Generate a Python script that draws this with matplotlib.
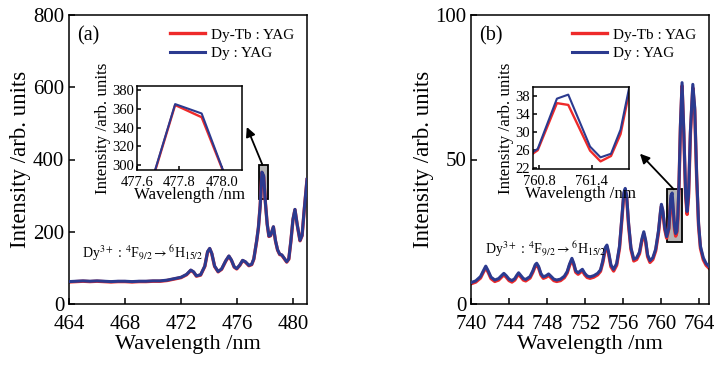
import matplotlib
matplotlib.use("Agg")
import matplotlib.pyplot as plt
from matplotlib.patches import Rectangle

plt.rcParams['font.family'] = ['Liberation Serif', 'DejaVu Serif']
plt.rcParams['mathtext.fontset'] = 'stix'

# ---------------- data panel (a) ----------------
wl_a = [464.0, 464.5, 465.0, 465.5, 466.0, 466.5, 467.0, 467.5, 468.0, 468.5, 469.0, 469.5,
        470.0, 470.5, 471.0, 471.5, 472.0, 472.4, 472.7, 472.9, 473.1, 473.4, 473.7, 473.9,
        474.05, 474.2, 474.4, 474.65, 474.9, 475.2, 475.42, 475.6, 475.8, 475.98, 476.2, 476.4,
        476.6, 476.85, 477.05, 477.2, 477.405, 477.53, 477.655, 477.78, 477.905, 478.03, 478.155,
        478.28, 478.4, 478.6, 478.75, 478.9, 479.05, 479.2, 479.35, 479.55, 479.7, 479.85, 480.0,
        480.14, 480.3, 480.5, 480.65, 480.8, 481.0]
dy_a = [62, 63, 64, 63, 64, 63, 62, 63, 63, 62, 63, 63,
        64, 64, 66, 70, 74, 82, 94, 89, 78, 81, 105, 145,
        154, 140, 105, 90, 97, 120, 133, 122, 103, 98, 108, 121,
        117, 107, 110, 125, 175, 212, 272, 365, 355, 280, 222,
        188, 190, 214, 175, 150, 138, 136, 128, 117, 125, 175, 235,
        262, 220, 176, 190, 260, 345]
dytb_a = [61, 62, 63, 62, 63, 62, 61, 62, 62, 61, 62, 62,
          63, 63, 65, 69, 73, 81, 93, 88, 77, 80, 104, 144,
          153, 139, 104, 89, 96, 119, 132, 121, 102, 97, 107, 120,
          116, 106, 109, 124, 174, 211, 271, 364, 351, 280, 221,
          187, 189, 213, 174, 149, 137, 135, 127, 116, 124, 174, 234,
          261, 219, 175, 189, 259, 344]

# ---------------- data panel (b) ----------------
wl_b = [740.0, 740.5, 741.0, 741.3, 741.55, 741.8, 742.1, 742.5, 742.9, 743.2, 743.45, 743.7,
        744.0, 744.3, 744.6, 744.8, 745.0, 745.25, 745.5, 745.75, 746.2, 746.5, 746.75, 746.9,
        747.1, 747.35, 747.6, 747.9, 748.15, 748.4, 748.7, 749.0, 749.4, 749.8, 750.1, 750.35,
        750.6, 750.8, 751.0, 751.25, 751.5, 751.7, 751.95, 752.2, 752.5, 752.9, 753.3, 753.6,
        753.85, 754.1, 754.28, 754.45, 754.7, 754.98, 755.3, 755.6, 755.85, 756.05, 756.2, 756.35,
        756.55, 756.8, 757.1, 757.4, 757.7, 757.95, 758.15, 758.35, 758.55, 758.8, 759.1, 759.4,
        759.7, 759.9, 760.0, 760.15, 760.35, 760.55, 760.78, 761.0, 761.13, 761.38, 761.5,
        761.62, 761.73, 761.85, 762.0, 762.17, 762.35, 762.55, 762.7, 762.85, 763.05, 763.3,
        763.5, 763.7, 763.9, 764.1, 764.4, 764.7, 765.0]
dy_b = [7.4, 8.0, 9.5, 11.5, 13.1, 11.5, 9.3, 8.3, 8.8, 9.8, 10.6, 9.8,
        8.6, 8.1, 8.8, 9.9, 10.8, 9.8, 8.8, 8.5, 9.5, 11.5, 13.6, 14.1,
        13.0, 10.5, 9.4, 9.8, 10.4, 9.6, 8.6, 8.3, 8.6, 9.6, 11.2, 13.8,
        15.8, 14.0, 11.5, 10.8, 11.5, 12.0, 10.6, 9.7, 9.4, 9.8, 10.6, 11.8,
        15.0, 19.5, 20.4, 18.0, 13.5, 12.0, 14.0, 20.0, 30.0, 38.5, 40.0, 37.5,
        28.0, 19.5, 15.5, 16.0, 18.0, 22.5, 25.0, 22.0, 17.0, 15.0, 16.0, 19.0,
        25.5, 32.0, 34.5, 32.5, 26.5, 23.3, 26.3, 37.5, 38.4, 26.8, 24.4,
        25.2, 30.6, 42.0, 62.0, 76.6, 60.0, 38.0, 32.0, 38.0, 60.0, 76.0,
        68.0, 45.0, 28.0, 20.0, 16.0, 14.0, 13.0]
dytb_b = [7.0, 7.6, 9.0, 11.0, 12.6, 11.0, 8.8, 7.8, 8.3, 9.3, 10.1, 9.3,
          8.1, 7.6, 8.3, 9.4, 10.3, 9.3, 8.3, 8.0, 9.0, 11.0, 13.1, 13.6,
          12.5, 10.0, 8.9, 9.3, 9.9, 9.1, 8.1, 7.8, 8.1, 9.1, 10.7, 13.3,
          15.3, 13.5, 11.0, 10.3, 11.0, 11.5, 10.1, 9.2, 8.9, 9.3, 10.1, 11.3,
          14.4, 18.9, 19.8, 17.4, 12.9, 11.4, 13.4, 19.3, 29.3, 37.8, 39.3, 36.8,
          27.3, 18.9, 14.9, 15.4, 17.4, 21.8, 24.3, 21.3, 16.4, 14.4, 15.4, 18.4,
          24.8, 31.3, 33.8, 31.8, 25.8, 22.8, 26.0, 36.5, 36.1, 25.9, 23.5,
          24.7, 29.6, 41.0, 61.0, 75.5, 59.0, 37.0, 31.0, 37.0, 59.0, 74.8,
          67.0, 44.0, 27.2, 19.3, 15.3, 13.4, 12.4]

legend_labels = ['Dy-Tb : YAG', 'Dy : YAG']
xticks_a = [464, 468, 472, 476, 480]
yticks_a = [0, 200, 400, 600, 800]
xticks_b = [740, 744, 748, 752, 756, 760, 764]
yticks_b = [0, 50, 100]
inset_xticks_a = [477.6, 477.8, 478.0]
inset_yticks_a = [300, 320, 340, 360, 380]
inset_xticks_b = [760.8, 761.4]
inset_yticks_b = [22, 26, 30, 34, 38]

RED = '#ee2a2a'
BLUE = '#2b3a8f'
W, H = 715, 368

fig = plt.figure(figsize=(W / 100, H / 100), dpi=100)


def frac(l, t, r, b):
    return [l / W, 1 - b / H, (r - l) / W, (b - t) / H]


def style(ax, fs, lw=1.1, tl=4):
    ax.tick_params(direction='in', length=tl, width=lw, labelsize=fs,
                   top=False, right=False)
    for s in ax.spines.values():
        s.set_linewidth(lw)


def panel(rect, wl, dytb, dy, xlim, ylim, xt, yt, tag, ann_xy, box, arrow,
          inrect, ixlim, iylim, ixt, iyt, ixfmt):
    ax = fig.add_axes(frac(*rect))
    ax.add_patch(Rectangle((box[0], box[2]), box[1] - box[0], box[3] - box[2],
                           facecolor='#b4b4b4', edgecolor='black', lw=1.3, zorder=1))
    ax.plot(wl, dytb, color=RED, lw=2.4, label=legend_labels[0], zorder=2)
    ax.plot(wl, dy, color=BLUE, lw=2.2, label=legend_labels[1], zorder=3)
    ax.set_xlim(*xlim)
    ax.set_ylim(*ylim)
    ax.set_xticks(xt)
    ax.set_yticks(yt)
    style(ax, 15)
    ax.tick_params(axis='x', pad=8)
    ax.set_xlabel('Wavelength /nm', fontsize=16, labelpad=1)
    ax.set_ylabel('Intensity /arb. units', fontsize=16.5, labelpad=1)
    ax.text(0.035, 0.96, tag, transform=ax.transAxes, fontsize=14.5, va='top', ha='left')
    ax.legend(loc='upper right', bbox_to_anchor=(1.0, 1.0), frameon=False, fontsize=11,
              handlelength=2.3, handletextpad=0.4, labelspacing=0.3, borderaxespad=0.45)
    ax.text(ann_xy[0], ann_xy[1],
            r'Dy$^{3+}$ : $^{4}$F$_{9/2}$$\rightarrow$$^{6}$H$_{15/2}$',
            fontsize=10, ha='left', va='baseline')
    ax.annotate('', xy=arrow[0], xytext=arrow[1],
                arrowprops=dict(arrowstyle='-|>', color='black', lw=1.3,
                                mutation_scale=14, shrinkA=0, shrinkB=0), zorder=5)
    ins = fig.add_axes(frac(*inrect))
    ins.plot(wl, dytb, color=RED, lw=1.7)
    ins.plot(wl, dy, color=BLUE, lw=1.5)
    ins.set_xlim(*ixlim)
    ins.set_ylim(*iylim)
    ins.set_xticks(ixt)
    ins.set_xticklabels([ixfmt.format(v) for v in ixt])
    ins.set_yticks(iyt)
    style(ins, 10.5, lw=1.1, tl=3)
    ins.tick_params(axis='y', pad=2)
    ins.tick_params(axis='x', pad=4)
    ins.set_xlabel('Wavelength /nm', fontsize=12.2, labelpad=-1)
    ins.set_ylabel('Intensity /arb. units', fontsize=12.2, labelpad=1)
    return ax


panel((69, 15, 307, 304), wl_a, dytb_a, dy_a, (464, 481), (0, 800), xticks_a, yticks_a,
      '(a)', (464.95, 128), (477.55, 478.2, 290, 385),
      ((476.7, 490), (477.82, 385)),
      (137, 86, 241.7, 170), (477.6, 478.094), (294.7, 384.3),
      inset_xticks_a, inset_yticks_a, '{:.1f}')

panel((471, 15, 709, 304), wl_b, dytb_b, dy_b, (740, 765), (0, 100), xticks_b, yticks_b,
      '(b)', (741.5, 17.3), (760.55, 762.15, 21.3, 39.7),
      ((757.75, 52.0), (761.3, 39.7)),
      (532.5, 87, 629.3, 169), (760.72, 761.83), (21.8, 40.1),
      inset_xticks_b, inset_yticks_b, '{:.1f}')

fig.savefig('out.png', dpi=100)
